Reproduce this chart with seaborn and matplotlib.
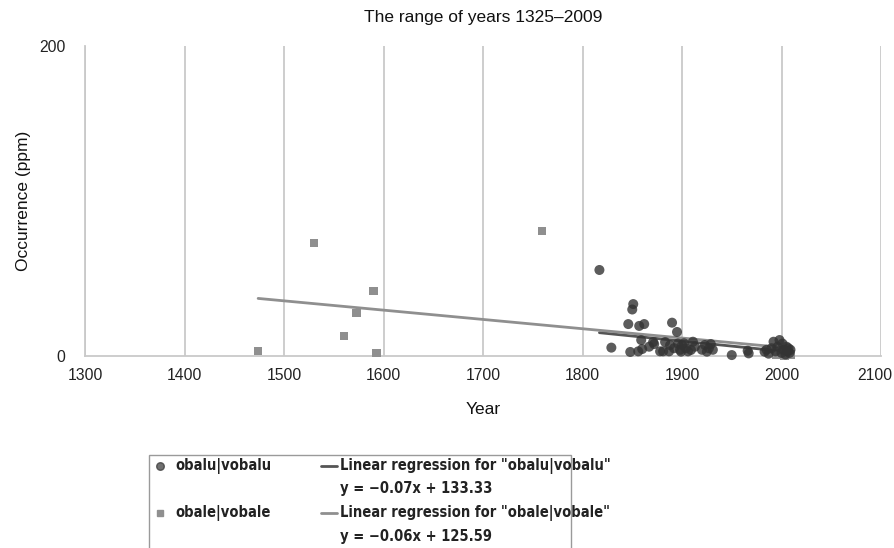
import numpy as np
import pandas as pd
import seaborn as sns
import matplotlib
matplotlib.use("Agg")
import matplotlib.pyplot as plt
from matplotlib.lines import Line2D
from matplotlib.patches import Rectangle
from matplotlib.transforms import ScaledTranslation

# ---- data ----
years_u = [1817, 1829, 1846, 1848, 1850, 1851, 1856, 1857, 1859, 1860, 1862, 1867,
           1871, 1872, 1878, 1881, 1883, 1887, 1888, 1890, 1892, 1895, 1896, 1898,
           1899, 1900, 1902, 1904, 1906, 1909, 1911, 1913, 1920, 1923, 1925, 1927,
           1929, 1931, 1950, 1966, 1967, 1983, 1985, 1987, 1990, 1992, 1994, 1996,
           1998, 2000, 2001, 2002, 2004, 2005, 2006, 2007, 2008, 2009]
vals_u = [55.5, 5.4, 20.6, 2.6, 30.0, 33.5, 3.0, 19.4, 10.3, 4.5, 20.6, 6.0,
          9.0, 7.7, 3.0, 3.0, 9.0, 3.0, 7.0, 21.5, 5.0, 15.5, 8.0, 4.0,
          2.8, 7.0, 8.2, 5.0, 3.0, 3.9, 9.2, 6.0, 4.0, 7.1, 2.8, 5.0,
          7.7, 4.0, 0.6, 3.4, 1.7, 2.8, 4.0, 1.5, 5.0, 9.2, 3.0, 6.0,
          10.3, 2.0, 8.0, 4.0, 1.0, 6.0, 3.0, 5.0, 2.0, 4.0]

years_e = [1474, 1530, 1560, 1573, 1590, 1593, 1759, 1995, 2000, 2003, 2005, 2007, 2009]
vals_e = [3.2, 72.9, 12.9, 27.7, 41.9, 1.9, 80.6, 0.5, 1.0, 0.3, 2.0, 0.5, 1.0]

series_names = ["obalu|vobalu", "obale|vobale"]
reg_slopes = [-0.0651, -0.0600]
reg_intercepts = [133.33, 125.59]
reg_labels = ['Linear regression for "obalu|vobalu"', 'Linear regression for "obale|vobale"']
reg_eqs = ["y = \u22120.07x + 133.33", "y = \u22120.06x + 125.59"]

title = "The range of years 1325\u20132009"
xticks = [1300, 1400, 1500, 1600, 1700, 1800, 1900, 2000, 2100]
yticks = [0, 200]

# ---- styling ----
sns.set_style("white")
plt.rcParams["font.family"] = ["Liberation Sans", "DejaVu Sans"]

GRID = "#c9c9c9"
C_U = "#333333"
C_E = "#8f8f8f"
L_U = "#555555"
L_E = "#8f8f8f"

fig = plt.figure(figsize=(8.95, 5.48), dpi=100)
ax = fig.add_axes([85 / 895, 1 - 356 / 548, (881 - 85) / 895, (356 - 46) / 548])

df_u = pd.DataFrame({"Year": years_u, "Occ": vals_u})
df_e = pd.DataFrame({"Year": years_e, "Occ": vals_e})

# regression lines
for yrs, m, b, col in [(years_u, reg_slopes[0], reg_intercepts[0], L_U),
                       (years_e, reg_slopes[1], reg_intercepts[1], L_E)]:
    xs = np.array([min(yrs), max(yrs)], dtype=float)
    sns.lineplot(x=xs, y=m * xs + b, ax=ax, color=col, linewidth=2.0, zorder=2)

sns.scatterplot(data=df_e, x="Year", y="Occ", ax=ax, marker="s", s=36,
                color=C_E, edgecolor="none", linewidth=0, zorder=3)
sns.scatterplot(data=df_u, x="Year", y="Occ", ax=ax, marker="o", s=52,
                color=C_U, alpha=0.8, edgecolor="none", linewidth=0, zorder=4)
for c in ax.collections:
    c.set_clip_on(False)

ax.set_xlim(1300, 2100)
ax.set_ylim(0, 200)
ax.set_xticks(xticks)
ax.set_yticks(yticks)
ax.xaxis.grid(True, color=GRID, linewidth=1.3)
ax.yaxis.grid(False)
for s in ["top", "right"]:
    ax.spines[s].set_visible(False)
for s in ["left", "bottom"]:
    ax.spines[s].set_color(GRID)
    ax.spines[s].set_linewidth(1.3)
ax.tick_params(axis="x", which="both", length=6, width=1.3, color=GRID,
               labelsize=11.3, labelcolor="#222222", pad=3, direction="out")
ax.tick_params(axis="y", length=0, labelsize=11.3, labelcolor="#222222", pad=14)

# last x tick label is nudged inward in the reference
last = ax.xaxis.get_major_ticks()[-1].label1
last.set_transform(last.get_transform() + ScaledTranslation(-0.065, 0, fig.dpi_scale_trans))

ax.set_xlabel("Year", fontsize=12.5, color="#111111", labelpad=13)
ax.set_ylabel("Occurrence (ppm)", fontsize=12.5, color="#111111", labelpad=6)
ax.set_title(title, fontsize=12.5, color="#111111", pad=17)

# ---- legend (drawn in figure pixel coords) ----
W, H = 895, 548
def fx(px):
    return px / W
def fy(py):
    return 1 - py / H

box = Rectangle((fx(149), fy(560)), fx(571) - fx(149), fy(455) - fy(560),
                transform=fig.transFigure, fill=False, edgecolor="#9a9a9a",
                linewidth=1.0, clip_on=False)
fig.patches.append(box)

lfont = dict(fontsize=10.5, fontweight="bold", color="#222222",
             family="DejaVu Sans", fontstretch="condensed", va="center", ha="left")

rows = [466, 489, 513, 536]
fig.lines.append(Line2D([fx(160)], [fy(rows[0])], marker="o", markersize=5.5,
                        color=C_U, alpha=0.7, linestyle="none", transform=fig.transFigure))
fig.text(fx(175), fy(rows[0]), series_names[0], **lfont)
fig.lines.append(Line2D([fx(160)], [fy(rows[2])], marker="s", markersize=5,
                        color=C_E, linestyle="none", transform=fig.transFigure))
fig.text(fx(175), fy(rows[2]), series_names[1], **lfont)

fig.lines.append(Line2D([fx(321), fx(337)], [fy(rows[0])] * 2, color=L_U,
                        linewidth=2, transform=fig.transFigure))
fig.text(fx(340), fy(rows[0]), reg_labels[0], **lfont)
fig.text(fx(340), fy(rows[1]), reg_eqs[0], **lfont)
fig.lines.append(Line2D([fx(321), fx(337)], [fy(rows[2])] * 2, color=L_E,
                        linewidth=2, transform=fig.transFigure))
fig.text(fx(340), fy(rows[2]), reg_labels[1], **lfont)
fig.text(fx(340), fy(rows[3]), reg_eqs[1], **lfont)

fig.savefig("out.png", dpi=100)
